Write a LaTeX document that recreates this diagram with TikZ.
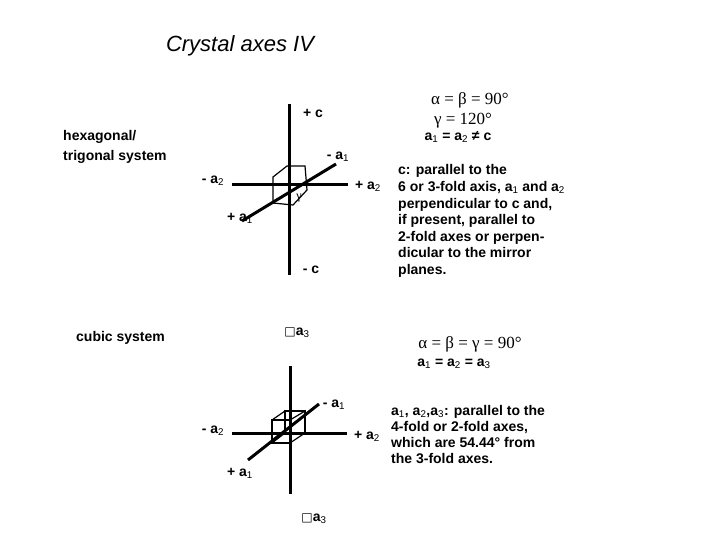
\documentclass[tikz,border=0pt]{standalone}
\usepackage{fontspec}
\setmainfont{Liberation Sans}
\newfontfamily\grk{Liberation Serif}
\newfontfamily\djv{DejaVu Sans}
\newcommand\sbx[1]{\textsubscript{\mdseries #1}}
\begin{document}
\begin{tikzpicture}[x=1pt,y=-1pt,
  ax/.style={line width=3pt},
  thin/.style={line width=1.2pt},
  lb/.style={font=\fontsize{14}{16}\selectfont\bfseries,inner sep=0pt},
  pl/.style={lb,anchor=base west,yshift=-5pt},
  gk/.style={font=\grk\fontsize{17}{19}\selectfont}]
\useasboundingbox[fill=white] (0,0) rectangle (720,540);
\node[font=\fontsize{22}{24}\selectfont\itshape] (t) at (240,46) {Crystal axes IV};
\node[pl] (h1) at (63,136) {hexagonal/};
\node[pl] (h2) at (63,156) {trigonal system};
% top axes
\coordinate (ct) at (289,104); \coordinate (cb) at (289,275);
\coordinate (al) at (232,185); \coordinate (ar) at (348,185);
\coordinate (dl) at (242,221); \coordinate (dr) at (336,164);
\draw[thin] (273,177) -- (287,166) -- (305,166) -- (307,190) -- (293,205) -- (273,203) -- cycle;
\draw[ax] (ct) -- (cb); \draw[ax] (al) -- (ar); \draw[ax] (dl) -- (dr);
\node[font=\grk\fontsize{12}{12}\selectfont] (g) at (299,198) {γ};
\node[lb] at (313,113) {+ c};
\node[lb] at (338,157) {- a\sbx{1}};
\node[lb] at (213,181) {- a\sbx{2}};
\node[lb] at (368,186) {+ a\sbx{2}};
\node[lb] at (240,218) {+ a\sbx{1}};
\node[lb] at (311,270) {- c};
\node[gk] at (470,100) {α = β = 90°};
\node[gk] at (463,121) {γ = 120°};
\node[lb] at (458,137) {a\sbx{1} = a\sbx{2} ≠ c};
\node[pl] at (398,170) {c: parallel to the};
\node[pl] at (398,186.5) {6 or 3-fold axis, a\sbx{1} and a\sbx{2}};
\node[pl] at (398,203) {perpendicular to c and,};
\node[pl] at (398,219.5) {if present,  parallel to};
\node[pl] at (398,236) {2-fold axes or perpen-};
\node[pl] at (398,252.5) {dicular  to the  mirror};
\node[pl] at (398,269) {planes.};
% cubic
\node[pl] (cs) at (76,336) {cubic system};
\coordinate (vt) at (290,366); \coordinate (vb) at (290,494);
\coordinate (hl) at (232,433); \coordinate (hr) at (347,433);
\coordinate (el) at (248,460); \coordinate (er) at (319,404);
\draw[thin] (272,420) rectangle (290,443);
\draw[thin] (285,411) rectangle (305,433);
\draw[thin] (272,420) -- (285,411) (290,443) -- (305,433) (290,420) -- (305,411) (272,443) -- (285,433);
\draw[ax] (vt) -- (vb); \draw[ax] (hl) -- (hr); \draw[ax] (el) -- (er);
\node[lb] at (297,333) {{\djv\mdseries\fontsize{12}{12}\selectfont □}a\sbx{3}};
\node[lb] at (334,405) {- a\sbx{1}};
\node[lb] at (213,431) {- a\sbx{2}};
\node[lb] at (367,436) {+ a\sbx{2}};
\node[lb] at (240,473) {+ a\sbx{1}};
\node[lb] at (314,519) {{\djv\mdseries\fontsize{12}{12}\selectfont □}a\sbx{3}};
\node[gk] at (470,344) {α = β = γ = 90°};
\node[lb] at (454,364) {a\sbx{1} = a\sbx{2} = a\sbx{3}};
\node[pl] at (391,410) {a\sbx{1}, a\sbx{2},a\sbx{3}: parallel to the};
\node[pl] at (391,426) {4-fold or 2-fold axes,};
\node[pl] at (391,442) {which are 54.44° from};
\node[pl] at (391,458) {the 3-fold axes.};
\end{tikzpicture}
\end{document}
